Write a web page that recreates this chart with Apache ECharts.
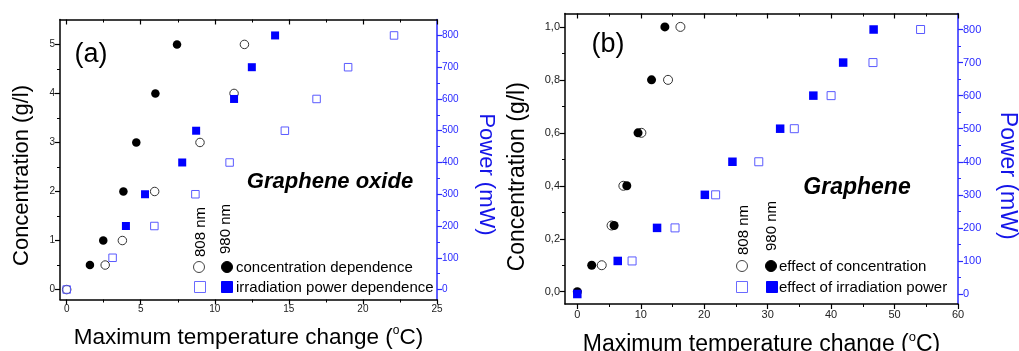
<!DOCTYPE html>
<html><head><meta charset="utf-8">
<script src="https://cdn.jsdelivr.net/npm/echarts@6/dist/echarts.min.js"></script>
<style>html,body{margin:0;padding:0;background:#fff}#c{width:1019px;height:351px}</style>
</head><body><div id="c"></div>
<script>
// ---------- Panel (a): Graphene oxide ----------
const aConc808 = [0, 0.5, 1, 2, 3, 4, 5];
const aConc808T = [0, 2.6, 3.76, 5.94, 9.0, 11.3, 12.0];
const aConc980 = [0.5, 1, 2, 3, 4, 5];
const aConc980T = [1.57, 2.47, 3.83, 4.7, 5.99, 7.45];
const aPow808 = [0, 100, 200, 300, 400, 500, 600, 700, 800];
const aPow808T = [0, 3.1, 5.92, 8.69, 11.0, 14.73, 16.87, 19.0, 22.1];
const aPow980 = [200, 300, 400, 500, 600, 700, 800];
const aPow980T = [4.0, 5.29, 7.8, 8.74, 11.3, 12.5, 14.07];
const aXTicks = [0, 5, 10, 15, 20, 25];
const aXMinor = [2.5, 7.5, 12.5, 17.5, 22.5];
const aYTicks = [0, 1, 2, 3, 4, 5];
const aYMinor = [0.5, 1.5, 2.5, 3.5, 4.5];
const powTicks = [0, 100, 200, 300, 400, 500, 600, 700, 800];
const powMinor = [50, 150, 250, 350, 450, 550, 650, 750];

// ---------- Panel (b): Graphene ----------
const bConc980 = [0, 0.1, 0.25, 0.4, 0.6, 0.8, 1.0];
const bConc980T = [0, 2.27, 5.8, 7.8, 9.57, 11.7, 13.8];
const bConc808 = [0.1, 0.25, 0.4, 0.6, 0.8, 1.0];
const bConc808T = [3.85, 5.4, 7.26, 10.1, 14.3, 16.25];
const bPow980 = [0, 100, 200, 300, 400, 500, 600, 700, 800];
const bPow980T = [0, 6.37, 12.57, 20.1, 24.45, 31.97, 37.2, 41.9, 46.7];
const bPow808 = [100, 200, 300, 400, 500, 600, 700, 800];
const bPow808T = [8.63, 15.4, 21.8, 28.6, 34.2, 40.0, 46.6, 54.1];
const bXTicks = [0, 10, 20, 30, 40, 50, 60];
const bXMinor = [5, 15, 25, 35, 45, 55];
const bYTicks = [0, 0.2, 0.4, 0.6, 0.8, 1.0];
const bYMinor = [0.1, 0.3, 0.5, 0.7, 0.9];

const FONT = '"Liberation Sans", Arial, sans-serif';
const BLUE = '#2a2aff';
const xAxes = [], yAxes = [];

function addAxes(list, grid, min, max, major, minor, pos, mirror, color, labelColor, fmt, labelSize, name, nameGap, nameSize, nameRotate, nameColor, namePad) {
  const idx = list.length;
  const base = {type: 'value', gridIndex: grid, min: min, max: max, splitLine: {show: false}};
  list.push(Object.assign({}, base, {
    position: pos,
    axisLine: {show: true, onZero: false, lineStyle: {color: color, width: 1.5}},
    axisTick: {show: true, customValues: major, length: 5, lineStyle: {color: color, width: 1.2}},
    axisLabel: {show: true, customValues: major, formatter: fmt, fontSize: labelSize, fontFamily: FONT, color: labelColor, margin: 5},
    name: name, nameLocation: 'middle', nameGap: nameGap, nameRotate: nameRotate,
    nameTextStyle: {fontSize: nameSize, fontFamily: FONT, color: nameColor, padding: namePad || 0,
      rich: {sup: {fontSize: Math.round(nameSize * 0.55), fontFamily: FONT, color: nameColor, verticalAlign: 'top', lineHeight: nameSize * 1.2}}}
  }));
  list.push(Object.assign({}, base, {
    position: pos,
    axisLine: {show: false, onZero: false},
    axisTick: {show: true, customValues: minor, length: 3, lineStyle: {color: color, width: 1}},
    axisLabel: {show: false}
  }));
  if (mirror) {
    list.push(Object.assign({}, base, {
      position: mirror,
      axisLine: {show: true, onZero: false, lineStyle: {color: '#000', width: 1.5}},
      axisTick: {show: true, inside: true, customValues: major, length: 5, lineStyle: {color: '#000', width: 1.2}},
      axisLabel: {show: false}
    }));
    list.push(Object.assign({}, base, {
      position: mirror,
      axisLine: {show: false, onZero: false},
      axisTick: {show: true, inside: true, customValues: minor, length: 3, lineStyle: {color: '#000', width: 1}},
      axisLabel: {show: false}
    }));
  }
  return idx;
}

const xTitle = 'Maximum temperature change ({sup|o}C)';
const plain = v => String(v);
const comma = v => v.toFixed(1).replace('.', ',');

// Panel a axes
const ax = addAxes(xAxes, 0, -0.45, 25, aXTicks, aXMinor, 'bottom', 'top', '#000', '#222', plain, 10, xTitle, 25, 22.5, 0, '#000');
const ayL = addAxes(yAxes, 0, -0.203, 5.508, aYTicks, aYMinor, 'left', null, '#000', '#222', plain, 10, 'Concentration (g/l)', 27, 22, 90, '#000', [0, 32, 0, 0]);
const ayR = addAxes(yAxes, 0, -31.4, 850.2, powTicks, powMinor, 'right', null, BLUE, BLUE, plain, 10, 'Power (mW)', 38, 22, -90, '#1515e8', [0, 0, 0, 30]);
// Panel b axes
const bx = addAxes(xAxes, 1, -1.94, 60, bXTicks, bXMinor, 'bottom', 'top', '#000', '#222', plain, 11, xTitle, 27, 23, 0, '#000');
const byL = addAxes(yAxes, 1, -0.0464, 1.0506, bYTicks, bYMinor, 'left', null, '#000', '#222', comma, 11, 'Concentration (g/l)', 36, 23, 90, '#000', [0, 36, 0, 0]);
const byR = addAxes(yAxes, 1, -30.2, 848.4, powTicks, powMinor, 'right', null, BLUE, BLUE, plain, 11, 'Power (mW)', 38, 23, -90, '#1515e8', [0, 0, 0, 34]);

const pts = (T, V) => T.map((t, i) => [t, V[i]]);
function sc(name, xi, yi, T, V, symbol, size, fill, stroke, bw) {
  return {name: name, type: 'scatter', xAxisIndex: xi, yAxisIndex: yi, data: pts(T, V),
    symbol: symbol, symbolSize: size, silent: true,
    itemStyle: {color: fill, borderColor: stroke, borderWidth: bw, opacity: 1}};
}

const series = [
  sc('a conc 980', ax, ayL, aConc980T, aConc980, 'circle', 8.5, '#000', '#000', 0),
  sc('a conc 808', ax, ayL, aConc808T, aConc808, 'circle', 8.5, 'transparent', '#333', 1),
  sc('a pow 980', ax, ayR, aPow980T, aPow980, 'rect', 8, '#0000ff', '#0000ff', 0),
  sc('a pow 808', ax, ayR, aPow808T, aPow808, 'rect', 7.5, 'transparent', '#5a5aff', 1),
  sc('b conc 808', bx, byL, bConc808T, bConc808, 'circle', 9, 'transparent', '#333', 1),
  sc('b conc 980', bx, byL, bConc980T, bConc980, 'circle', 9, '#000', '#000', 0),
  sc('b pow 808', bx, byR, bPow808T, bPow808, 'rect', 8, 'transparent', '#5a5aff', 1),
  sc('b pow 980', bx, byR, bPow980T, bPow980, 'rect', 8.5, '#0000ff', '#0000ff', 0)
];

function txt(s, x, y, size, opts) {
  opts = opts || {};
  return {type: 'text', x: x, y: y, rotation: opts.rot || 0, silent: true,
    style: {text: s, font: (opts.weight || '') + ' ' + size + 'px ' + FONT, fill: opts.color || '#000',
      align: opts.align || 'center', verticalAlign: 'middle'}};
}
const circ = (cx, cy, r, filled) => ({type: 'circle', silent: true, shape: {cx: cx, cy: cy, r: r},
  style: {fill: filled ? '#000' : 'none', stroke: filled ? '#000' : '#444', lineWidth: 1}});
const sq = (cx, cy, s, filled) => ({type: 'rect', silent: true, shape: {x: cx - s / 2, y: cy - s / 2, width: s, height: s},
  style: {fill: filled ? '#0000ff' : 'none', stroke: filled ? '#0000ff' : '#6a6aff', lineWidth: 1}});

const graphic = [
  txt('(a)', 91, 55, 27),
  txt('Graphene oxide', 330, 182, 22, {weight: 'italic bold'}),
  txt('808 nm', 201, 232, 15, {rot: Math.PI / 2}),
  txt('980 nm', 226, 229, 15, {rot: Math.PI / 2}),
  circ(199, 267, 5.5, false), circ(227, 267, 5.5, true),
  sq(200, 287, 11, false), sq(227, 287, 11, true),
  txt('concentration dependence', 236, 268, 15, {align: 'left'}),
  txt('irradiation power dependence', 236, 288, 15, {align: 'left'}),

  txt('(b)', 608, 45, 27),
  txt('Graphene', 857, 188, 23, {weight: 'italic bold'}),
  txt('808 nm', 744, 230, 15, {rot: Math.PI / 2}),
  txt('980 nm', 772, 226, 15, {rot: Math.PI / 2}),
  circ(742, 266, 5.5, false), circ(771, 266, 5.5, true),
  sq(742, 287, 11, false), sq(772, 287, 11, true),
  txt('effect of concentration', 779, 267, 15, {align: 'left'}),
  txt('effect of irradiation power', 779, 288, 15, {align: 'left'})
];

const chart = echarts.init(document.getElementById('c'), null, {renderer: 'canvas'});
chart.setOption({
  animation: false,
  backgroundColor: '#fff',
  grid: [
    {left: 60, top: 19.5, width: 377, height: 280, containLabel: false, outerBoundsMode: 'none'},
    {left: 565, top: 13.5, width: 393, height: 290.5, containLabel: false, outerBoundsMode: 'none'}
  ],
  xAxis: xAxes,
  yAxis: yAxes,
  series: series,
  graphic: graphic
});
</script></body></html>
